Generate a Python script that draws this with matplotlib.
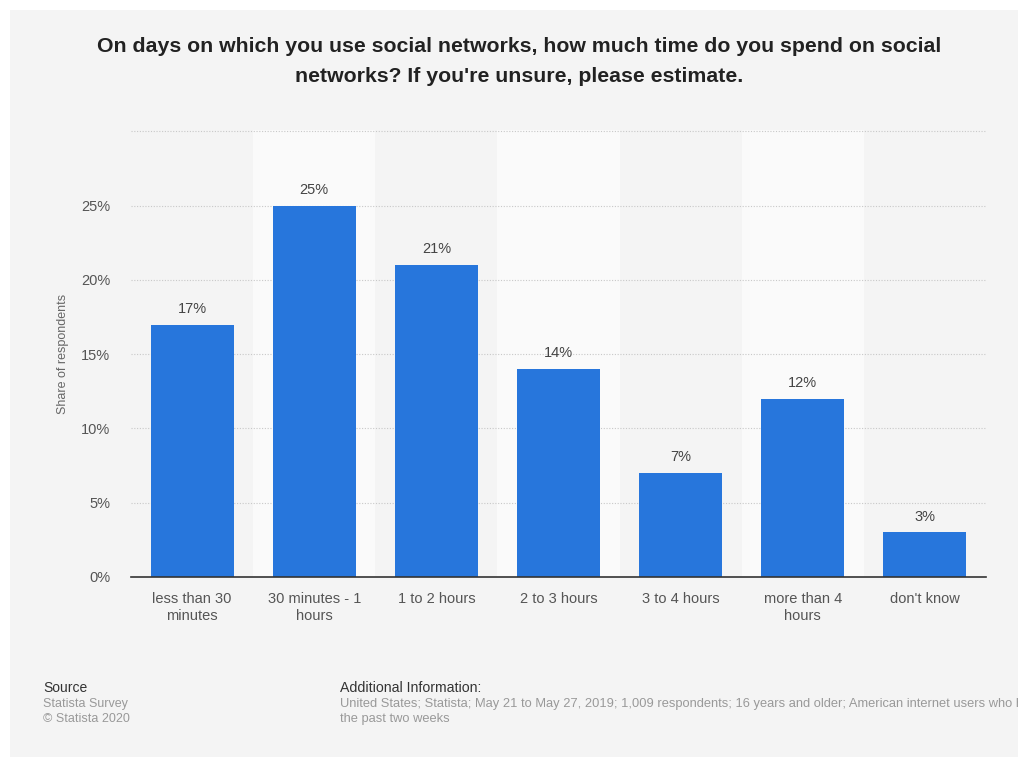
import matplotlib.pyplot as plt
from matplotlib.patches import Rectangle

plt.rcParams['font.family'] = ['Liberation Sans', 'DejaVu Sans']

categories = ['less than 30\nminutes', '30 minutes - 1\nhours', '1 to 2 hours',
              '2 to 3 hours', '3 to 4 hours', 'more than 4\nhours', "don't know"]
shares = [17, 25, 21, 14, 7, 12, 3]
y_ticks = [0, 5, 10, 15, 20, 25, 30]
y_tick_labels = ['0%', '5%', '10%', '15%', '20%', '25%', '']

W, H = 1018, 761
fig = plt.figure(figsize=(W / 100, H / 100), dpi=100)
fig.patch.set_facecolor('white')

# grey card behind everything
fig.patches.append(Rectangle((10 / W, 1 - 757 / H), 1, (757 - 10) / H,
                             transform=fig.transFigure, facecolor='#f4f4f4',
                             edgecolor='none', zorder=-10))

left, right, top, bottom = 131, 986, 130, 577
ax = fig.add_axes([left / W, 1 - bottom / H, (right - left) / W, (bottom - top) / H])
ax.set_facecolor('none')

x = list(range(len(categories)))
ax.set_xlim(-0.5, len(categories) - 0.5)
ax.set_ylim(0, 30.1)

# lighter bands behind every other category
for i in x:
    if i % 2 == 1:
        ax.axvspan(i - 0.5, i + 0.5, color='#fafafa', zorder=0, lw=0)

for t in y_ticks[1:]:
    ax.axhline(t, color='#c8c8c8', lw=0.8, ls=(0, (1, 1.5)), zorder=1)

bars = ax.bar(x, shares, width=0.68, color='#2776dc', zorder=2)
for xi, v in zip(x, shares):
    ax.text(xi, v + 0.6, f'{v}%', ha='center', va='bottom', fontsize=10.5, color='#444444')

ax.set_xticks(x)
ax.set_xticklabels(categories, fontsize=10.5, color='#555555', linespacing=1.25, va='top')
ax.set_yticks(y_ticks)
ax.set_yticklabels(y_tick_labels, fontsize=10.5, color='#555555')
ax.tick_params(axis='both', length=0)
ax.tick_params(axis='x', pad=11)
ax.tick_params(axis='y', pad=15)
for s in ['top', 'right', 'left']:
    ax.spines[s].set_visible(False)
ax.spines['bottom'].set_color('#333333')
ax.spines['bottom'].set_linewidth(1.2)
ax.spines['bottom'].set_zorder(3)

fig.text(63 / W, 1 - 354 / H, 'Share of respondents', rotation=90, ha='center', va='center',
         fontsize=9, color='#666666')

fig.text(519 / W, 1 - 46 / H, 'On days on which you use social networks, how much time do you spend on social',
         ha='center', va='center', fontsize=15.3, fontweight='bold', color='#222222')
fig.text(519 / W, 1 - 77 / H, "networks? If you're unsure, please estimate.",
         ha='center', va='center', fontsize=15.3, fontweight='bold', color='#222222')

# footer
fig.text(43 / W, 1 - 688 / H, 'Source', ha='left', va='center', fontsize=10, color='#333333')
fig.text(43 / W, 1 - 704 / H, 'Statista Survey', ha='left', va='center', fontsize=9, color='#999999')
fig.text(43 / W, 1 - 719 / H, '© Statista 2020', ha='left', va='center', fontsize=9, color='#999999')
fig.text(340 / W, 1 - 688 / H, 'Additional Information:', ha='left', va='center', fontsize=10.2, color='#333333')
fig.text(340 / W, 1 - 704 / H,
         'United States; Statista; May 21 to May 27, 2019; 1,009 respondents; 16 years and older; '
         'American internet users who have used social networks in',
         ha='left', va='center', fontsize=9.25, color='#999999')
fig.text(340 / W, 1 - 719 / H, 'the past two weeks', ha='left', va='center', fontsize=9.25, color='#999999')

fig.savefig('out.png', dpi=100, facecolor=fig.get_facecolor())
